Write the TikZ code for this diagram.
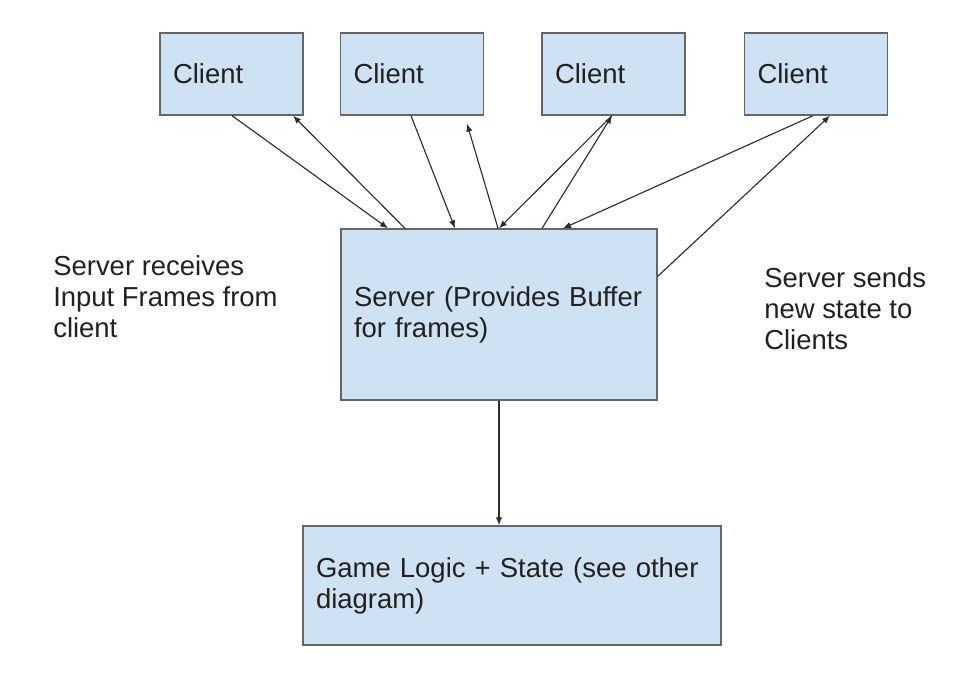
\documentclass[tikz,border=0pt]{standalone}
\usepackage{fontspec}
\setmainfont{Liberation Sans}
\usetikzlibrary{calc,arrows.meta}

\begin{document}
\begin{tikzpicture}[x=0.75pt,y=0.75pt,yscale=-1,xscale=1,
  blk/.style={draw={rgb, 255:red, 102; green, 102; blue, 102 },line width=1pt,fill={rgb, 255:red, 207; green, 226; blue, 243 },text={rgb, 255:red, 33; green, 33; blue, 33 },inner xsep=9.75pt,inner ysep=0pt,align=left,font=\fontsize{20.6}{23.4}\selectfont},
  lbl/.style={anchor=north west,inner sep=0pt,align=left,text={rgb, 255:red, 33; green, 33; blue, 33 },font=\fontsize{20.6}{23.4}\selectfont},
  link/.style={draw={rgb, 255:red, 45; green, 45; blue, 45 },line width=0.85pt,-{Latex[length=6pt,width=4.8pt]}}]
\useasboundingbox (0,0) rectangle (970,672); %set diagram to 970 x 672

%Shape: Rectangle [clients]
\draw (231.5,74) node (c1) [blk,text width=87.75pt,minimum height=61.5pt] {Client};
\draw (412,74) node (c2) [blk,text width=87.75pt,minimum height=61.5pt] {Client};
\draw (613.5,74) node (c3) [blk,text width=87.75pt,minimum height=61.5pt] {Client};
\draw (816,74) node (c4) [blk,text width=87.75pt,minimum height=61.5pt] {Client};
%Shape: Rectangle [server]
\draw (499,314.5) node (srv) [blk,text width=217.5pt,minimum height=128.25pt] {Server (Provides Buffer\\for frames)};
%Shape: Rectangle [game logic]
\draw (512,585.5) node (gm) [blk,text width=294pt,minimum height=89.25pt] {Game Logic + State (see other\\diagram)};

%Straight Lines [client 1]
\draw [link] ($(c1.south)+(0.5,0)$) -- ($(srv.north)+(-111,0)$);
\draw [link] ($(srv.north)+(-94,0)$) -- ($(c1.south)+(61.5,0)$);
%Straight Lines [client 2]
\draw [link] ($(c2.south)+(-1,0)$) -- ($(srv.north)+(-44,0)$);
\draw [link] ($(srv.north)+(-1,0)$) -- ($(c2.south)+(55,8)$);
%Straight Lines [client 3]
\draw [link] ($(c3.south)+(-1.5,0)$) -- (srv.north);
\draw [link] ($(srv.north)+(43,0)$) -- ($(c3.south)+(-1.5,0)$);
%Straight Lines [client 4]
\draw [link] ($(c4.south)+(-3,0)$) -- ($(srv.north)+(64,0)$);
\draw [link] ($(srv.north east)+(0,48)$) -- ($(c4.south)+(14,0)$);
%Straight Lines [server to game logic]
\draw [link] (srv.south) -- (srv.south |- gm.north);

% Text Node
\draw (53,255) node (lblin) [lbl] {Server receives\\Input Frames from\\client};
% Text Node
\draw (764,267) node (lblout) [lbl] {Server sends\\new state to\\Clients};
\end{tikzpicture}
\end{document}
